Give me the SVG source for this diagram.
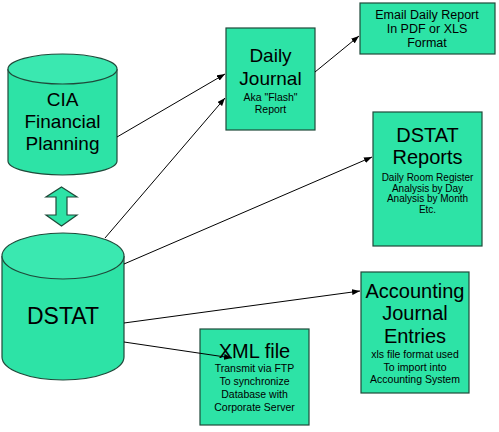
<svg xmlns="http://www.w3.org/2000/svg" width="499" height="432" viewBox="0 0 499 432">
<defs>
<marker id="ah" markerWidth="8" markerHeight="6" refX="8" refY="3" orient="auto" markerUnits="userSpaceOnUse">
<path d="M0,0 L8,3 L0,6 z" fill="#000"/>
</marker>
<style>
.sh{fill:#2de3a6;stroke:#1f4a3a;stroke-width:1.2}
.top{fill:#3ae8b0;stroke:#1f4a3a;stroke-width:1.2}
.t{font-family:"Liberation Sans",Arial,sans-serif;fill:#000;text-anchor:middle}
.big{font-size:19px}
.sm{font-size:10.5px}
.xs{font-size:10px}
.md{font-size:12.5px}
.c{fill:none;stroke:#000;stroke-width:1;marker-end:url(#ah)}
</style>
</defs>
<rect width="499" height="432" fill="#fff"/>
<g id="cia">
<path class="sh" d="M8,69 L8,161 A54.5,14 0 0 0 117,161 L117,69"/>
<ellipse class="top" cx="62.5" cy="69" rx="54.5" ry="15"/>
<text class="t big" x="62.5" y="106">CIA</text>
<text class="t big" x="62.5" y="128">Financial</text>
<text class="t big" x="62.5" y="150">Planning</text>
</g>
<g id="sync">
<path class="sh" d="M61.5,187 L77,197 L67,197 L67,215 L77,215 L61.5,226 L46,215 L56,215 L56,197 L46,197 z"/>
</g>
<g id="dstat">
<path class="sh" d="M2,256 L2,357 A61,23 0 0 0 124,357 L124,256"/>
<ellipse class="top" cx="63" cy="256" rx="61" ry="23"/>
<text class="t" x="63" y="324" font-size="23">DSTAT</text>
</g>
<g id="daily">
<rect class="sh" x="226" y="28" width="89" height="102"/>
<text class="t big" x="270.5" y="62">Daily</text>
<text class="t big" x="270.5" y="85">Journal</text>
<text class="t sm" x="270.5" y="101">Aka "Flash"</text>
<text class="t sm" x="270.5" y="113">Report</text>
</g>
<g id="email">
<rect class="sh" x="360" y="3" width="135" height="51"/>
<text class="t md" x="427" y="19">Email Daily Report</text>
<text class="t md" x="427" y="33">In PDF or XLS</text>
<text class="t md" x="427" y="47">Format</text>
</g>
<g id="reports">
<rect class="sh" x="373" y="112" width="109" height="134"/>
<text class="t" x="427.5" y="142" font-size="20">DSTAT</text>
<text class="t" x="427.5" y="164" font-size="20">Reports</text>
<text class="t xs" x="427.5" y="181">Daily Room Register</text>
<text class="t xs" x="427.5" y="191.5">Analysis by Day</text>
<text class="t xs" x="427.5" y="202">Analysis by Month</text>
<text class="t xs" x="427.5" y="212.5">Etc.</text>
</g>
<g id="accounting">
<rect class="sh" x="361" y="272" width="108" height="121"/>
<text class="t" x="415" y="298" font-size="20">Accounting</text>
<text class="t" x="415" y="320" font-size="20">Journal</text>
<text class="t" x="415" y="343" font-size="20">Entries</text>
<text class="t sm" x="415" y="358">xls file format used</text>
<text class="t sm" x="415" y="371">To import into</text>
<text class="t sm" x="415" y="383">Accounting System</text>
</g>
<g id="xml">
<rect class="sh" x="200" y="329" width="109" height="96"/>
<text class="t" x="254.5" y="358" font-size="20">XML file</text>
<text class="t sm" x="254.5" y="372">Transmit via FTP</text>
<text class="t sm" x="254.5" y="385">To synchronize</text>
<text class="t sm" x="254.5" y="398">Database with</text>
<text class="t sm" x="254.5" y="411">Corporate Server</text>
</g>
<g id="connectors">
<line class="c" x1="117" y1="137" x2="225" y2="74"/>
<line class="c" x1="105" y1="238" x2="225" y2="98"/>
<line class="c" x1="315" y1="72" x2="359" y2="36"/>
<line class="c" x1="124" y1="264" x2="372" y2="157"/>
<line class="c" x1="124" y1="323" x2="360" y2="291"/>
<line class="c" x1="124" y1="342" x2="232" y2="358"/>
</g>
</svg>
